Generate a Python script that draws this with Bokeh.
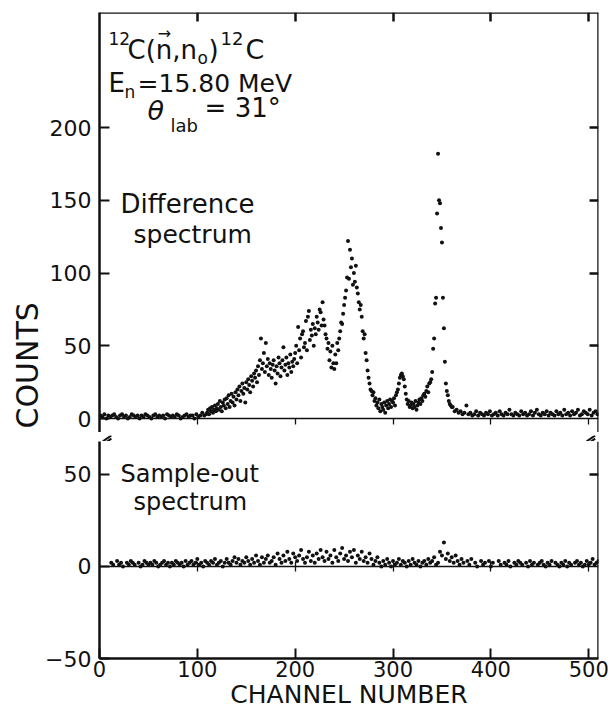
import math
from bokeh.plotting import figure
from bokeh.models import (Range1d, LinearAxis, FixedTicker, Label,
                          CustomJSTickFormatter, Title)
from bokeh.layouts import column
from bokeh.embed import file_html
from bokeh.resources import INLINE

nan = float("nan")

# ---------------- data ----------------
# Difference spectrum
diff_channels_low = list(range(1, 110, 2))
diff_counts_low = [2, 1, 3, 0, 2, 1, 2, 3, 1, 0,
                   2, 3, 1, 2, 0, 1, 3, 2, 1, 2,
                   0, 2, 1, 3, 2, 1, 0, 2, 3, 1,
                   2, 1, 2, 0, 3, 2, 1, 2, 1, 3,
                   2, 0, 1, 2, 3, 1, 2, 2, 0, 3,
                   1, 2, 4, 2, 3]
diff_channels_mid = list(range(110, 361))
diff_counts_mid = [4, 6, 3, 7, 5, 8, 4, 6, 9, 5,
                   7, 10, 6, 12, 8, 5, 11, 9, 13, 7,
                   14, 10, 16, 8, 12, 17, 11, 15, 9, 18,
                   13, 20, 16, 22, 12, 19, 24, 17, 21, 11,
                   25, 20, 27, 23, 18, 29, 26, 22, 31, 28,
                   33, 25, 36, 30, 40, 55, 34, 38, 45, 32,
                   52, 36, 41, 30, 38, 34, 28, 37, 40, 33,
                   24, 36, 31, 42, 38, 29, 35, 40, 49, 33,
                   37, 42, 30, 38, 35, 44, 32, 39, 36, 41,
                   45, 50, 38, 63, 47, 55, 42, 58, 60, 49,
                   52, 67, 47, 70, 74, 54, 61, 57, 65, 50,
                   62, 58, 70, 66, 61, 75, 73, 64, 80, 68,
                   64, 58, 55, 48, 52, 40, 46, 35, 50, 38,
                   34, 44, 38, 52, 47, 55, 60, 66, 65, 72,
                   78, 83, 88, 97, 122, 96, 116, 104, 110, 92,
                   100, 94, 105, 90, 86, 80, 75, 78, 70, 60,
                   55, 58, 45, 40, 33, 28, 24, 20, 19, 16,
                   18, 12, 14, 9, 11, 7, 13, 5, 10, 8,
                   6, 11, 4, 9, 12, 7, 10, 13, 8, 12,
                   11, 14, 9, 16, 18, 20, 24, 28, 30, 31,
                   29, 27, 22, 17, 13, 10, 12, 8, 9, 11,
                   7, 10, 8, 12, 6, 9, 11, 13, 10, 14,
                   12, 16, 17, 15, 19, 22, 18, 24, 25, 27,
                   32, 48, 55, 79, 83, 141, 182, 150, 148, 131,
                   121, 83, 62, 39, 24, 19, 16, 12, 10, 9, 8]
diff_channels_high = list(range(361, 510, 2))
diff_counts_high = [8, 5, 6, 4, 5, 3, 4, 9, 3, 4,
                    2, 3, 5, 2, 4, 3, 2, 4, 3, 5,
                    2, 3, 4, 2, 5, 3, 2, 4, 3, 6,
                    3, 2, 4, 3, 2, 5, 3, 4, 2, 3,
                    5, 2, 4, 6, 3, 2, 4, 3, 5, 2,
                    4, 3, 2, 5, 3, 4, 2, 6, 3, 4,
                    2, 5, 3, 4, 6, 2, 3, 5, 4, 3,
                    6, 2, 4, 5, 3]

# Sample-out spectrum
out_channels = list(range(12, 511, 2))
out_counts = [2, 1, nan, 3, 1, 2, 0, nan, 2, 1,
              3, 2, 1, nan, 2, 0, 1, 3, 2, 1,
              2, 1, 3, 2, 0, 1, 2, 3, 1, 2,
              0, 2, 1, 3, 2, 1, 2, 0, 3, 1,
              2, 3, 1, 2, 4, 1, 2, 0, 3, 2,
              1, 3, 2, 4, 1, 2, 3, 0, 2, 4,
              2, 1, 3, 5, 2, 4, 1, 3, 2, 5,
              3, 1, 4, 2, 6, 3, 1, 5, 2, 4,
              6, 2, 3, 5, 1, 7, 4, 2, 6, 3,
              8, 4, 2, 7, 5, 3, 6, 9, 4, 2,
              5, 8, 3, 6, 2, 7, 4, 9, 5, 3,
              8, 4, 6, 2, 9, 5, 3, 7, 10, 4,
              6, 3, 8, 5, 9, 2, 6, 4, 8, 3,
              5, 2, 7, 4, 1, 3, 5, 2, 0, 3,
              1, 4, 2, 0, 3, 1, 2, 4, 1, 3,
              2, 0, 3, 1, 4, 2, 1, 3, 0, 2,
              3, 1, 4, 2, 3, 5, 1, 2, 8, 6,
              13, 4, 7, 3, 5, 2, 6, 3, 1, 4,
              2, nan, 3, 1, 4, nan, 2, 0, nan, 3,
              1, 2, nan, 3, 0, 2, nan, nan, 3, 1,
              nan, 2, 1, 3, 0, nan, 2, 1, 3, 2,
              1, nan, 2, 0, 3, 1, 2, nan, 1, 2,
              3, 1, 0, 2, 1, 3, nan, 2, 1, 0,
              2, 1, 3, 0, 2, 1, nan, 2, 3, 1,
              2, 0, 1, 3, 1, 2, 4, 1, 2, 3]

x_ticks = [0, 100, 200, 300, 400, 500]
inner_x_ticks = [100, 200, 300, 400, 500]
top_y_ticks = [0, 50, 100, 150, 200]
bottom_y_ticks = [-50, 0, 50]

# ---------------- styling ----------------
FONT = "DejaVu Sans"
INK = "#111111"
X_MAX = 510
TOP_Y = (-9.6, 279.1)
LOW_Y = (-50, 67.9)
WIDTH = 612
LEFT = 99
RIGHT = 14
blank = CustomJSTickFormatter(code="return ''")

xr = Range1d(0, X_MAX)


def style(fig):
    fig.outline_line_color = None
    fig.xgrid.visible = False
    fig.ygrid.visible = False
    fig.background_fill_color = "white"
    fig.border_fill_color = "white"


def fixed_axis(fig, loc, ticks, side, tin, tout, width):
    ax = LinearAxis(fixed_location=loc, ticker=FixedTicker(ticks=ticks),
                    formatter=blank, major_tick_in=tin, major_tick_out=tout,
                    minor_tick_line_color=None, axis_line_width=width,
                    axis_line_color=INK, major_tick_line_color=INK,
                    major_tick_line_width=width, major_label_standoff=0)
    fig.add_layout(ax, side)


def style_main_axis(ax, ticks, size="22px"):
    ax.ticker = FixedTicker(ticks=ticks)
    ax.major_tick_in = 10
    ax.major_tick_out = 0
    ax.minor_tick_line_color = None
    ax.axis_line_width = 2.5
    ax.axis_line_color = INK
    ax.major_tick_line_width = 2
    ax.major_tick_line_color = INK
    ax.major_label_text_font = FONT
    ax.major_label_text_font_size = size
    ax.major_label_text_color = INK


def add_text(fig, x, y, text, size, align="left", style_="normal"):
    fig.add_layout(Label(x=x, y=y, text=text,
                         text_font=FONT, text_font_size=size,
                         text_align=align, text_baseline="middle",
                         text_font_style=style_, text_color=INK))


# ---------------- top panel: difference spectrum ----------------
p1 = figure(width=WIDTH, height=432, x_range=xr, y_range=Range1d(*TOP_Y),
            output_backend="svg", toolbar_location=None, x_axis_location=None,
            min_border_left=LEFT, min_border_right=RIGHT, min_border_top=12,
            min_border_bottom=0)
style(p1)
style_main_axis(p1.yaxis[0], top_y_ticks)
p1.yaxis[0].major_label_standoff = 8
p1.add_layout(Title(text="COUNTS", align="left", offset=4, standoff=4,
                    text_font=FONT, text_font_size="30px",
                    text_font_style="normal", text_color=INK), "left")

for ch, ct in ((diff_channels_low, diff_counts_low),
               (diff_channels_mid, diff_counts_mid),
               (diff_channels_high, diff_counts_high)):
    p1.scatter(ch, ct, size=4, color=INK, line_width=0)

fixed_axis(p1, TOP_Y[1], inner_x_ticks, "above", 9, 0, 2.5)
fixed_axis(p1, X_MAX, [50, 100, 150, 200], "right", 9, 0, 2.5)
fixed_axis(p1, 0, inner_x_ticks, "below", 0, 6, 1.3)

# reaction label
add_text(p1, 9.2, 261.0, "12", "17px")
add_text(p1, 28.6, 253.6, "C(n,n", "26px")
add_text(p1, 66.5, 264.5, "\u2192", "16px", align="center")
add_text(p1, 100.2, 248.1, "o", "17px")
add_text(p1, 111.5, 253.6, ")", "26px")
add_text(p1, 123.7, 261.0, "12", "18px")
add_text(p1, 149.3, 253.6, "C", "27px")
add_text(p1, 9.2, 230.6, "E", "26px")
add_text(p1, 25.5, 224.7, "n", "17px")
add_text(p1, 38.9, 230.6, "=15.80 MeV", "25px")
add_text(p1, 49.1, 211.7, "\u03b8", "27px", style_="italic")
add_text(p1, 72.6, 201.6, "lab", "18px")
add_text(p1, 107.4, 213.4, "= 31\u00b0", "26px")
add_text(p1, 21.5, 147.8, "Difference", "26px")
add_text(p1, 34.8, 126.5, "spectrum", "25px")

# ---------------- axis break strip ----------------
px_per_ch = (WIDTH - LEFT - RIGHT) / X_MAX
pad = 8.0
p3 = figure(width=WIDTH, height=9, x_range=Range1d(-pad, X_MAX + pad),
            y_range=Range1d(0, 1), output_backend="svg",
            toolbar_location=None, x_axis_location=None, y_axis_location=None,
            min_border_left=round(LEFT - pad * px_per_ch),
            min_border_right=round(RIGHT - pad * px_per_ch),
            min_border_top=0, min_border_bottom=0)
style(p3)
break_x = [0, X_MAX]
for bx in break_x:
    p3.segment(x0=[bx - 4.5, bx - 4.5], y0=[0.0, 0.35],
               x1=[bx + 4.5, bx + 4.5], y1=[0.65, 1.0],
               line_color=INK, line_width=2)

# ---------------- bottom panel: sample-out spectrum ----------------
p2 = figure(width=WIDTH, height=272, x_range=xr, y_range=Range1d(*LOW_Y),
            output_backend="svg", toolbar_location=None,
            min_border_left=LEFT, min_border_right=RIGHT, min_border_top=0,
            min_border_bottom=55)
style(p2)
style_main_axis(p2.yaxis[0], bottom_y_ticks)
p2.yaxis[0].major_label_standoff = 8
style_main_axis(p2.xaxis[0], x_ticks, size="21px")
p2.xaxis[0].major_label_standoff = 2
p2.xaxis[0].axis_label = "CHANNEL NUMBER"
p2.xaxis[0].axis_label_standoff = 0
p2.xaxis[0].axis_label_text_font = FONT
p2.xaxis[0].axis_label_text_font_size = "25px"
p2.xaxis[0].axis_label_text_font_style = "normal"
p2.xaxis[0].axis_label_text_color = INK

p2.scatter(out_channels, out_counts, size=4, color=INK, line_width=0)

fixed_axis(p2, X_MAX, [50], "right", 9, 0, 2.5)
fixed_axis(p2, 0, inner_x_ticks, "below", 5, 5, 1.3)

add_text(p2, 21.5, 50.5, "Sample-out", "24px")
add_text(p2, 34.8, 35.0, "spectrum", "24px")

layout = column(p1, p3, p2, spacing=0)
open("out.html", "w").write(file_html(layout, INLINE))
